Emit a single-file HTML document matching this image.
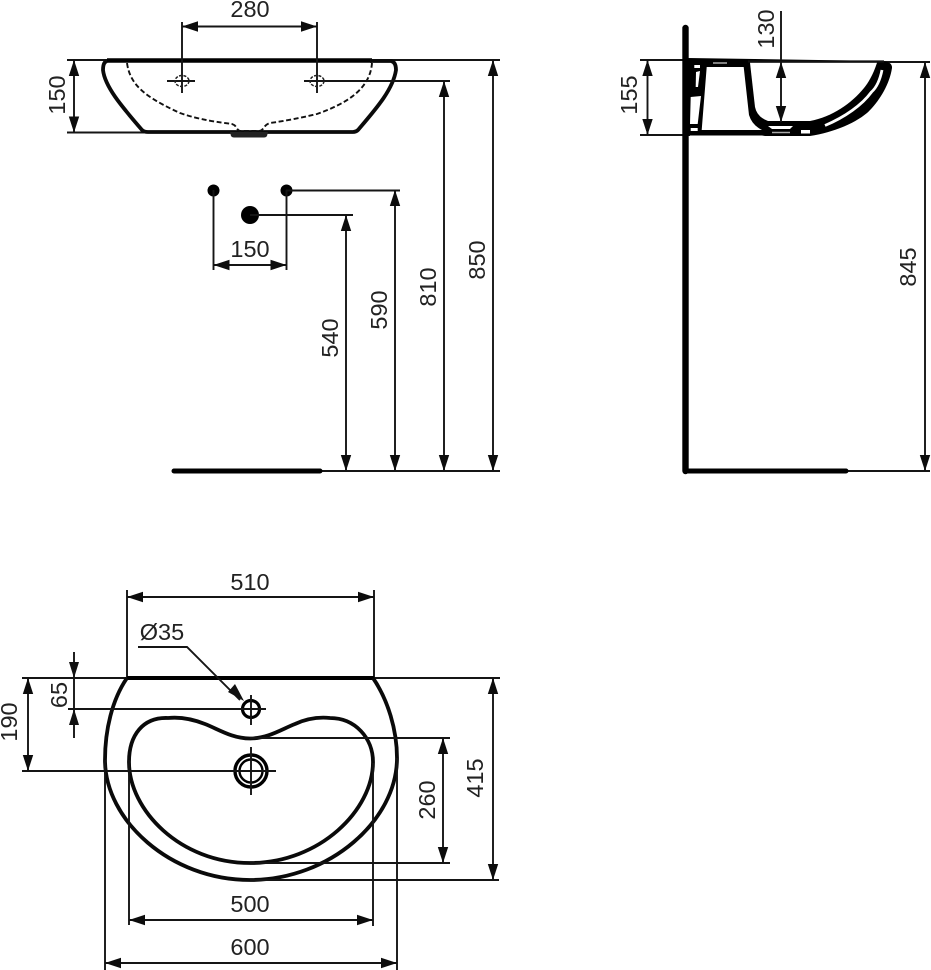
<!DOCTYPE html>
<html>
<head>
<meta charset="utf-8">
<style>
html,body{margin:0;padding:0;background:#fff;width:931px;height:970px;overflow:hidden}
svg{display:block}
text{font-family:"Liberation Sans",sans-serif;font-size:23.5px;fill:#222;text-anchor:middle}
.t{fill:none;stroke:#151515;stroke-width:1.9}
.o{fill:none;stroke:#0a0a0a;stroke-width:3.8}
.k{fill:none;stroke:#000;stroke-width:5;stroke-linecap:round}
.d{fill:none;stroke:#151515;stroke-width:1.9;marker-start:url(#a);marker-end:url(#a)}
</style>
</head>
<body>
<svg width="931" height="970" viewBox="0 0 931 970" xmlns="http://www.w3.org/2000/svg">
<defs>
<marker id="a" markerUnits="userSpaceOnUse" markerWidth="17" markerHeight="12" refX="16" refY="6" orient="auto-start-reverse">
<path d="M0,0.8 L16,6 L0,11.2 Z" fill="#0c0c0c"/>
</marker>
</defs>

<!-- Front view -->
<path class="t" d="M67,60 H500 M67,132.5 H148"/>
<path d="M107,60.5 H372" fill="none" stroke="#000" stroke-width="4.4"/>
<path class="o" d="M107,61 Q103,62 103,70 C105,88 125,110 142,130 Q144,132 148,132 H353 Q356,132 358,130 C375,110 393,90 396,70 Q396,62 391,61 H370"/>
<path fill="none" stroke="#111" stroke-width="1.9" stroke-dasharray="5 2.6" d="M127,63 C130,85 145,97 180,113 C200,120 218,122 232,124 C238,126 236,131 241,131 H259 C264,131 263,125 270,123 C285,121 300,118 317,114 C345,104 370,90 372,63"/>
<path d="M230,132 H268 L267,136 Q266,137.5 264,137.5 H234 Q232,137.5 231,136 Z" fill="#222"/>
<path class="t" d="M182,22 V93 M317,22 V93 M167,81 H195 M304,81 H450"/>
<ellipse cx="182" cy="81" rx="7" ry="5.5" fill="none" stroke="#222" stroke-width="1.5" stroke-dasharray="3 1.4"/>
<ellipse cx="317" cy="81" rx="7" ry="5.5" fill="none" stroke="#222" stroke-width="1.5" stroke-dasharray="3 1.4"/>
<line class="d" x1="182" y1="26.5" x2="317" y2="26.5"/>
<text x="250" y="17">280</text>
<line class="d" x1="74" y1="60" x2="74" y2="132.5"/>
<text transform="translate(65,95) rotate(-90)">150</text>

<circle cx="213.5" cy="190.5" r="6" fill="#000"/>
<circle cx="286.5" cy="190.5" r="6" fill="#000"/>
<circle cx="250" cy="215" r="9" fill="#000"/>
<path class="t" d="M213.5,190 V270 M286.5,190 V270 M286,190.5 H400 M250,215 H353"/>
<line class="d" x1="213.5" y1="265" x2="286.5" y2="265"/>
<text x="250" y="257">150</text>

<line class="d" x1="346" y1="215" x2="346" y2="471"/>
<line class="d" x1="395" y1="190" x2="395" y2="471"/>
<line class="d" x1="444" y1="81" x2="444" y2="471"/>
<line class="d" x1="493" y1="60" x2="493" y2="471"/>
<path class="t" d="M322,471 H500"/>
<path class="k" d="M174,471 H320"/>
<text transform="translate(338,338) rotate(-90)">540</text>
<text transform="translate(387,310) rotate(-90)">590</text>
<text transform="translate(436,287) rotate(-90)">810</text>
<text transform="translate(485,260) rotate(-90)">850</text>

<!-- Side view -->
<path class="t" d="M640,60 H690 M640,135 H690 M880,62 H930 M848,471 H930"/>
<path d="M688,58 L883,61 Q892.5,62 892,68 C889,88 875,106 867,113 C855,123 835,132 810,136 H765 L762,135.5 H688 Z" fill="#000"/>
<path d="M750,62.7 L755,107 Q757,117 768,121 L810,121 C832,117 852,103 864,88 C868,83 873,75 877,62.7 Z" fill="#fff"/>
<path d="M706.7,67 H743.7 L749,115 Q752,125 762,130 H701.7 Z" fill="#fff"/>
<path d="M882,70 C880,80 876,88 871.5,92 C862,105 845,117 825,125.5" fill="none" stroke="#fff" stroke-width="2.8"/>
<path d="M694.3,65 H700 V68 H694.3 Z M696,72 L700,71 L698,87 H695.7 Z M690.7,97 L701,96 L697.7,124 H690 Z M690.7,128 H697.7 V131 H690.7 Z" fill="#fff"/>
<path d="M768,126 H793 L790,129 H772 Z M801,130 H810 V133.5 H801 Z" fill="#fff"/>
<path d="M713,63 H727 M772,132.5 H790" stroke="#aaa" stroke-width="1.5" fill="none"/>
<path d="M748,61.5 H884" fill="none" stroke="#111" stroke-width="2.2"/>
<path d="M685.5,28 V471" fill="none" stroke="#000" stroke-width="6.4" stroke-linecap="round"/>
<path class="k" d="M685.5,471 H846"/>
<path class="t" d="M781,11 V60"/>
<line class="d" x1="781" y1="62" x2="781" y2="122"/>
<line class="d" x1="647.5" y1="60" x2="647.5" y2="135"/>
<line class="d" x1="925" y1="62" x2="925" y2="471"/>
<text transform="translate(774,29) rotate(-90)">130</text>
<text transform="translate(637,95) rotate(-90)">155</text>
<text transform="translate(916,267) rotate(-90)">845</text>

<!-- Plan view -->
<path class="t" d="M22,678 H127 M374,678 H500 M127,590 V678 M374,590 V678"/>
<path d="M127,678 H374" stroke="#000" stroke-width="4" fill="none"/>
<path class="o" d="M127,678 C112,700 105,730 105,760 C105,820 170,880 250,880 C330,880 397,820 397,758 C397,730 388,700 373,678"/>
<path class="o" d="M250,738.5 C232,738.5 218,729 205,724 C190,718 178,717 168,718 C143,717 129,735 129,762 C129,810 180,863 250,863 C320,863 373,810 373,762 C373,738 355,718 330,718 C320,717 308,718 295,724 C282,729 268,738.5 250,738.5 Z"/>
<circle cx="251" cy="709" r="8.5" fill="none" stroke="#000" stroke-width="3.2"/>
<circle cx="251" cy="771" r="16" fill="none" stroke="#000" stroke-width="3.4"/>
<circle cx="251" cy="771" r="11.5" fill="none" stroke="#000" stroke-width="2.4"/>
<path class="t" d="M68,709 H266 M251,695 V725 M22,771 H276 M251,747 V795"/>
<path class="t" d="M250,738 H450 M250,863 H450 M250,880 H499 M129,760 V925 M373,763 V926 M105,760 V970 M397,758 V970"/>
<line class="d" x1="127" y1="597" x2="374" y2="597"/>
<text x="250" y="590">510</text>
<text x="162" y="640">Ø35</text>
<path class="t" d="M138,647 H187 L240,700"/>
<path d="M244,701 L228,692 L235,684 Z" fill="#111"/>
<path class="t" d="M74,652 V738"/>
<path d="M74,678 L69,662 H79 Z M74,709 L69,725 H79 Z" fill="#111"/>
<line class="d" x1="28" y1="678" x2="28" y2="771"/>
<line class="d" x1="443" y1="738" x2="443" y2="863"/>
<line class="d" x1="493" y1="678" x2="493" y2="880"/>
<line class="d" x1="129" y1="920" x2="373" y2="920"/>
<line class="d" x1="105" y1="963" x2="397" y2="963"/>
<text transform="translate(67,695) rotate(-90)">65</text>
<text transform="translate(17,722) rotate(-90)">190</text>
<text transform="translate(435,800) rotate(-90)">260</text>
<text transform="translate(483,778) rotate(-90)">415</text>
<text x="250" y="912">500</text>
<text x="250" y="955">600</text>
</svg>
</body>
</html>
